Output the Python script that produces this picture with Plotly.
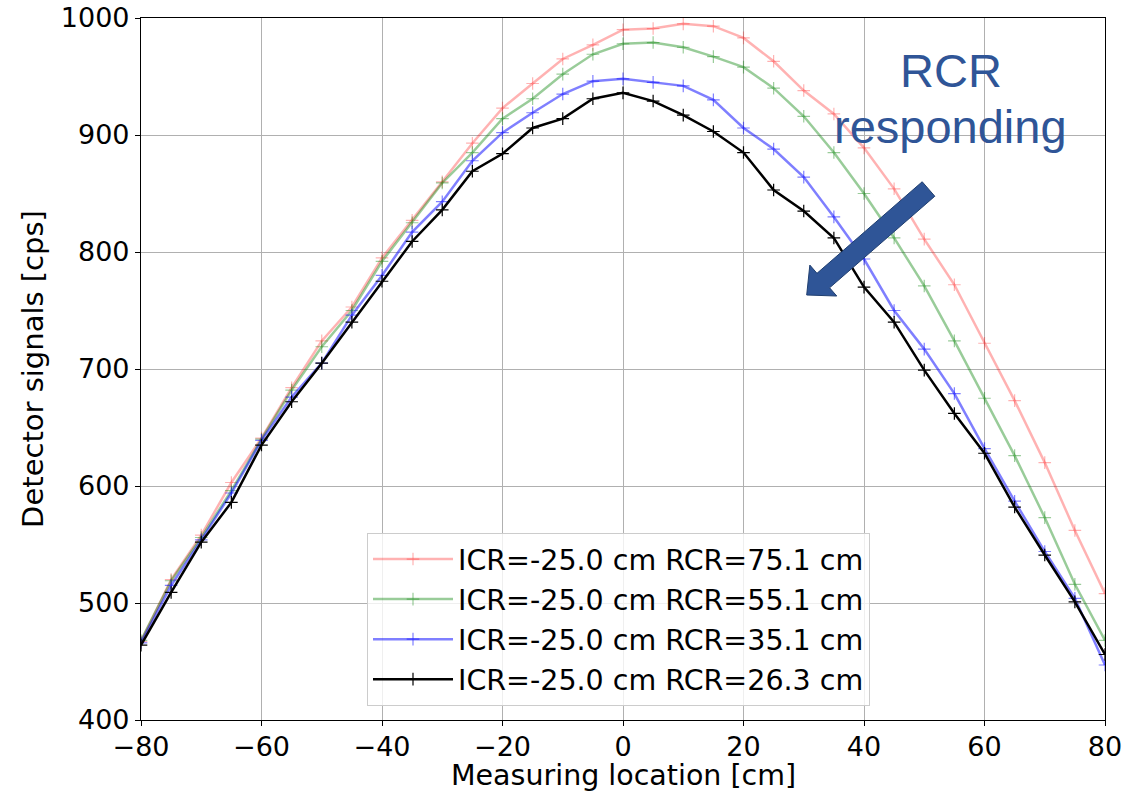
import numpy as np
import plotly.graph_objects as go

# ---------------- data ----------------
location = list(range(-80, 81, 5))

rcr_751 = [467, 520, 558, 603, 641, 684, 724, 753, 795, 827, 860, 893, 923, 944, 965, 977,
           990, 991, 995, 993, 983, 963, 938, 918, 889, 854, 811, 772, 722, 673, 620, 562, 508]
rcr_551 = [468, 519, 556, 596, 640, 682, 719, 750, 792, 825, 859, 885, 914, 931, 952, 969,
           978, 979, 975, 967, 958, 940, 916, 885, 850, 812, 771, 724, 675, 626, 573, 516, 468]
rcr_351 = [466, 515, 554, 594, 639, 676, 705, 746, 780, 817, 843, 878, 902, 919, 935, 946,
           948, 945, 942, 930, 906, 888, 864, 830, 794, 750, 717, 679, 632, 587, 544, 504, 447]
rcr_263 = [464, 509, 552, 586, 635, 672, 705, 740, 775, 809, 836, 869, 884, 906, 914, 931,
           936, 929, 917, 903, 885, 853, 835, 812, 770, 740, 699, 662, 628, 582, 541, 501, 456]

series_names = ["ICR=-25.0 cm RCR=75.1 cm", "ICR=-25.0 cm RCR=55.1 cm",
                "ICR=-25.0 cm RCR=35.1 cm", "ICR=-25.0 cm RCR=26.3 cm"]
series_values = [rcr_751, rcr_551, rcr_351, rcr_263]
series_colors = ["rgba(255,0,0,0.3)", "rgba(0,128,0,0.4)", "rgba(0,0,255,0.5)", "rgba(0,0,0,1)"]

x_ticks = [-80, -60, -40, -20, 0, 20, 40, 60, 80]
y_ticks = [400, 500, 600, 700, 800, 900, 1000]
x_title = "Measuring location [cm]"
y_title = "Detector signals [cps]"

# ---------------- figure ----------------
W, H = 1147, 792
L, R, T, B = 141, 1105, 18, 720

fig = go.Figure()
for name, vals, col in zip(series_names, series_values, series_colors):
    fig.add_trace(go.Scatter(
        x=location, y=vals, name=name, mode="lines+markers",
        line=dict(color=col, width=2.5),
        marker=dict(symbol="cross-thin", size=9, color=col, line=dict(color=col, width=1.2)),
    ))

font_main = "DejaVu Sans"

axis_common = dict(
    showgrid=True, gridcolor="#b0b0b0", gridwidth=1,
    showline=True, linecolor="black", linewidth=1.2, mirror=True,
    ticks="outside", ticklen=5, tickcolor="black", tickwidth=1,
    zeroline=False,
    tickfont=dict(family=font_main, size=27, color="black"),
)

fig.update_xaxes(range=[-80, 80], tickvals=x_ticks, automargin=False,
                 ticklabelstandoff=-3, **axis_common)
fig.update_yaxes(range=[400, 1000], tickvals=y_ticks,
                 title=dict(text=y_title, font=dict(family=font_main, size=29, color="black"), standoff=8),
                 automargin=False, **axis_common)

def to_paper(px, py):
    return ((px - L) / (R - L), (B - py) / (B - T))

# x-axis title placed as text below the tick labels
fig.add_annotation(xref="paper", yref="paper", x=0.5, y=to_paper(0, 775)[1],
                   text=x_title, showarrow=False, xanchor="center", yanchor="middle",
                   font=dict(family=font_main, size=28.5, color="black"))

# arrow polygon (pixel geometry -> paper coords)
tail = np.array([928.5, 189.0])
tip = np.array([806.7, 295.0])
u = (tip - tail) / np.linalg.norm(tip - tail)
n = np.array([u[1], -u[0]])
shaft_hw, head_hw, head_len = 9.6, 20.5, 22.0
base = tip - u * head_len
pts = [tail + n * shaft_hw, base + n * shaft_hw, base + n * head_hw, tip,
       base - n * head_hw, base - n * shaft_hw, tail - n * shaft_hw]
path = "M " + " L ".join("%.5f,%.5f" % to_paper(*p) for p in pts) + " Z"
fig.add_shape(type="path", xref="paper", yref="paper", path=path,
              fillcolor="#2F5597", line=dict(color="#203F70", width=1))

txt_color = "#2F5597"
fig.add_annotation(xref="paper", yref="paper", x=to_paper(951, 0)[0], y=to_paper(0, 70)[1],
                   text="RCR", showarrow=False, xanchor="center", yanchor="middle",
                   font=dict(family="Liberation Sans", size=47, color=txt_color))
fig.add_annotation(xref="paper", yref="paper", x=to_paper(950, 0)[0], y=to_paper(0, 126)[1],
                   text="responding", showarrow=False, xanchor="center", yanchor="middle",
                   font=dict(family="Liberation Sans", size=47, color=txt_color))

fig.update_layout(
    width=W, height=H,
    margin=dict(l=L, r=W - R, t=T, b=H - B, autoexpand=False),
    paper_bgcolor="white", plot_bgcolor="white",
    showlegend=True,
    legend=dict(x=to_paper(367, 0)[0], y=to_paper(0, 706)[1], xanchor="left", yanchor="bottom",
                bgcolor="rgba(255,255,255,0.8)", bordercolor="#cccccc", borderwidth=1,
                font=dict(family=font_main, size=28.5, color="black"),
                itemwidth=80, tracegroupgap=0),
)

fig.write_html("out.html", config={"displayModeBar": False},
               post_script="document.body.style.margin='0';document.body.style.padding='0';")
